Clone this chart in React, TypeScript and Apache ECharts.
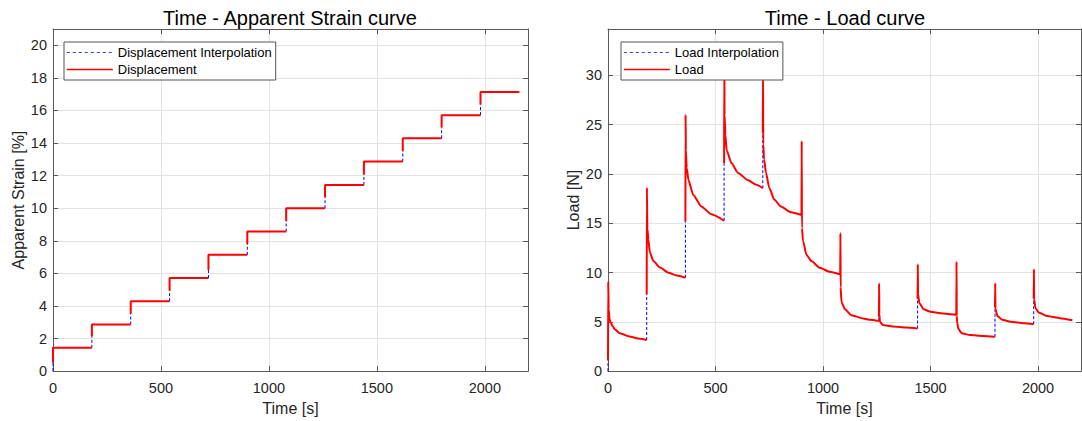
import React, { useEffect, useRef } from "react";
import * as echarts from "echarts";

// ---------- data ----------
const stepTimes = [0, 180, 360, 540, 720, 900, 1080, 1260, 1440, 1620, 1800, 1980];
const endTime = 2160;
const strainLevels = [1.43, 2.86, 4.29, 5.71, 7.14, 8.57, 10.0, 11.43, 12.86, 14.29, 15.71, 17.14];
const strainStarts = [0.52, 2.12, 3.5, 4.94, 6.2, 7.8, 9.2, 10.65, 12.05, 13.5, 14.95, 16.35];

const loadSeg0 = [[0, 1.1], [1, 9.1], [3, 6.3], [7, 5.3], [13, 4.9], [22, 4.55], [31, 4.25], [55, 3.85], [100, 3.5], [140, 3.3], [180, 3.15]];
const loadSeg1 = [[180, 7.8], [181, 18.6], [183, 14.5], [188, 13.3], [195, 12.0], [211, 11.16], [242, 10.5], [281, 9.98], [320, 9.7], [360, 9.47]];
const loadSeg2 = [[360, 15.15], [361, 26.0], [362, 22.5], [366, 20.6], [374, 19.4], [396, 17.9], [434, 16.7], [481, 15.9], [540, 15.25]];
const loadSeg3 = [[540, 21.1], [541, 31.5], [542, 26.0], [546, 23.96], [552, 22.4], [574, 21.1], [605, 20.1], [652, 19.35], [690, 18.9], [720, 18.55]];
const loadSeg4 = [[720, 24.2], [721, 31.0], [722, 23.0], [726, 21.5], [735, 20.1], [750, 18.6], [773, 17.4], [804, 16.7], [851, 16.1], [900, 15.84]];
const loadSeg5 = [[900, 15.9], [901, 23.35], [902, 14.5], [907, 13.2], [923, 11.8], [946, 11.16], [985, 10.48], [1031, 10.08], [1080, 9.81]];
const loadSeg6 = [[1080, 9.85], [1081, 14.0], [1082, 8.5], [1086, 7.0], [1102, 6.27], [1133, 5.66], [1187, 5.33], [1220, 5.2], [1260, 5.08]];
const loadSeg7 = [[1260, 5.5], [1261, 8.9], [1262, 5.8], [1265, 5.0], [1278, 4.68], [1325, 4.52], [1387, 4.42], [1440, 4.32]];
const loadSeg8 = [[1440, 7.35], [1441, 10.84], [1442, 7.8], [1448, 6.9], [1468, 6.28], [1500, 6.01], [1547, 5.88], [1620, 5.71]];
const loadSeg9 = [[1620, 5.75], [1621, 11.1], [1622, 5.6], [1624, 4.93], [1630, 4.26], [1645, 3.85], [1684, 3.65], [1746, 3.55], [1800, 3.48]];
const loadSeg10 = [[1800, 6.45], [1801, 8.92], [1802, 6.3], [1811, 5.6], [1834, 5.2], [1873, 5.0], [1935, 4.86], [1980, 4.76]];
const loadSeg11 = [[1980, 7.36], [1981, 10.34], [1982, 7.3], [1988, 6.39], [2003, 5.95], [2041, 5.6], [2103, 5.37], [2160, 5.15]];
const loadSegments = [loadSeg0, loadSeg1, loadSeg2, loadSeg3, loadSeg4, loadSeg5, loadSeg6, loadSeg7, loadSeg8, loadSeg9, loadSeg10, loadSeg11];

const xTicks = { min: 0, max: 2200, interval: 500 };
const strainAxis = { min: 0, max: 21, interval: 2 };
const loadAxis = { min: 0, max: 34.7, interval: 5 };

// ---------- build series data ----------
const strainLine: any[] = [];
const strainInterp: any[] = [];
stepTimes.forEach((t, i) => {
  const next = i + 1 < stepTimes.length ? stepTimes[i + 1] : endTime;
  const prev = i === 0 ? 0 : strainLevels[i - 1];
  strainInterp.push([t, prev], [t, strainStarts[i]], [t, null]);
  strainLine.push([t, strainStarts[i]], [t, strainLevels[i]], [next, strainLevels[i]], [next, null]);
});

const loadLine: any[] = [];
const loadInterp: any[] = [];
loadSegments.forEach((seg, i) => {
  const t = stepTimes[i];
  const prevSeg = i === 0 ? null : loadSegments[i - 1];
  const prev = prevSeg ? prevSeg[prevSeg.length - 1][1] : 0;
  loadInterp.push([t, prev], [t, seg[0][1]], [t, null]);
  seg.forEach((p) => loadLine.push(p));
  loadLine.push([seg[seg.length - 1][0], null]);
});

// ---------- styles ----------
const font = "'Liberation Sans', Arial, Helvetica, sans-serif";
const axisColor = "#595959";
const gridColor = "#e3e3e3";
const labelColor = "#262626";
const plain = (v: number) => String(v);

function xAxisDef(grid: number, main: boolean) {
  return {
    type: "value",
    gridIndex: grid,
    position: main ? "bottom" : "top",
    ...xTicks,
    name: main ? "Time [s]" : "",
    nameLocation: "middle",
    nameGap: 27,
    nameTextStyle: { fontSize: 16, color: labelColor, fontFamily: font },
    axisLine: { show: true, onZero: false, lineStyle: { color: axisColor, width: 1 } },
    axisTick: { show: true, inside: true, length: 5, lineStyle: { color: axisColor } },
    axisLabel: { show: main, color: labelColor, fontSize: 14.5, margin: 9, fontFamily: font, showMaxLabel: false, formatter: plain },
    splitLine: { show: main, lineStyle: { color: gridColor, width: 1 } },
  };
}

function yAxisDef(grid: number, main: boolean, ticks: any, name: string) {
  return {
    type: "value",
    gridIndex: grid,
    position: main ? "left" : "right",
    ...ticks,
    name: main ? name : "",
    nameLocation: "middle",
    nameGap: 27,
    nameTextStyle: { fontSize: 16, color: labelColor, fontFamily: font },
    axisLine: { show: true, onZero: false, lineStyle: { color: axisColor, width: 1 } },
    axisTick: { show: true, inside: true, length: 5, lineStyle: { color: axisColor } },
    axisLabel: { show: main, color: labelColor, fontSize: 14.5, margin: 6, fontFamily: font, showMaxLabel: false, formatter: plain },
    splitLine: { show: main, lineStyle: { color: gridColor, width: 1 } },
  };
}

function legendDef(left: number, names: string[]) {
  return {
    data: [
      { name: names[0], lineStyle: { width: 1, type: [3, 3], color: "#3a3aff" } },
      { name: names[1], lineStyle: { width: 1.6, color: "#ff0000" } },
    ],
    left,
    top: 42,
    orient: "vertical",
    itemWidth: 46,
    itemHeight: 14,
    itemGap: 4,
    padding: [4, 4, 4, 2],
    backgroundColor: "#ffffff",
    borderColor: "#555555",
    borderWidth: 1,
    borderRadius: 0,
    selectedMode: false,
    itemStyle: { opacity: 0, borderWidth: 0 },
    textStyle: { fontSize: 13, color: "#000000", fontFamily: font },
    z: 10,
  };
}

const lineCommon = { type: "line", symbol: "none", showSymbol: false, silent: true, smooth: 0.2, smoothMonotone: "x" };

const option: any = {
  animation: false,
  backgroundColor: "#ffffff",
  textStyle: { fontFamily: font },
  graphic: [
    {
      type: "text",
      x: 290,
      y: 18,
      style: { text: "Time - Apparent Strain curve", fontSize: 20, fontFamily: font, fill: "#000", align: "center", verticalAlign: "middle" },
    },
    {
      type: "text",
      x: 845,
      y: 18,
      style: { text: "Time - Load curve", fontSize: 20, fontFamily: font, fill: "#000", align: "center", verticalAlign: "middle" },
    },
  ],
  grid: [
    { left: 53, top: 29, width: 475, height: 343, containLabel: false },
    { left: 608, top: 29, width: 473, height: 343, containLabel: false },
  ],
  xAxis: [xAxisDef(0, true), xAxisDef(0, false), xAxisDef(1, true), xAxisDef(1, false)],
  yAxis: [
    yAxisDef(0, true, strainAxis, "Apparent Strain [%]"),
    yAxisDef(0, false, strainAxis, ""),
    yAxisDef(1, true, loadAxis, "Load [N]"),
    yAxisDef(1, false, loadAxis, ""),
  ],
  legend: [
    legendDef(64, ["Displacement Interpolation", "Displacement"]),
    legendDef(621, ["Load Interpolation", "Load"]),
  ],
  series: [
    {
      type: "line",
      name: "Displacement Interpolation",
      xAxisIndex: 0,
      yAxisIndex: 0,
      data: strainInterp,
      symbol: "none",
      showSymbol: false,
      silent: true,
      lineStyle: { color: "#0000ff", width: 1, type: [3, 2] },
      itemStyle: { color: "#0000ff" },
      z: 2,
    },
    {
      type: "line",
      name: "Displacement",
      xAxisIndex: 0,
      yAxisIndex: 0,
      data: strainLine,
      symbol: "none",
      showSymbol: false,
      silent: true,
      lineStyle: { color: "#ff0000", width: 2 },
      itemStyle: { color: "#ff0000" },
      z: 3,
    },
    {
      type: "line",
      name: "Load Interpolation",
      xAxisIndex: 2,
      yAxisIndex: 2,
      data: loadInterp,
      symbol: "none",
      showSymbol: false,
      silent: true,
      lineStyle: { color: "#0000ff", width: 1, type: [3, 2] },
      itemStyle: { color: "#0000ff" },
      z: 2,
    },
    {
      ...lineCommon,
      name: "Load",
      xAxisIndex: 2,
      yAxisIndex: 2,
      data: loadLine,
      lineStyle: { color: "#ff0000", width: 2 },
      itemStyle: { color: "#ff0000" },
      z: 3,
    },
  ],
};

export default function App() {
  const ref = useRef<HTMLDivElement>(null);
  useEffect(() => {
    if (!ref.current) return;
    const chart = echarts.init(ref.current, undefined, { renderer: "svg" });
    chart.setOption(option);
    return () => chart.dispose();
  }, []);
  return (
    <div
      ref={ref}
      style={{ position: "absolute", left: 0, top: 0, width: 1082, height: 421, background: "#fff" }}
    />
  );
}
